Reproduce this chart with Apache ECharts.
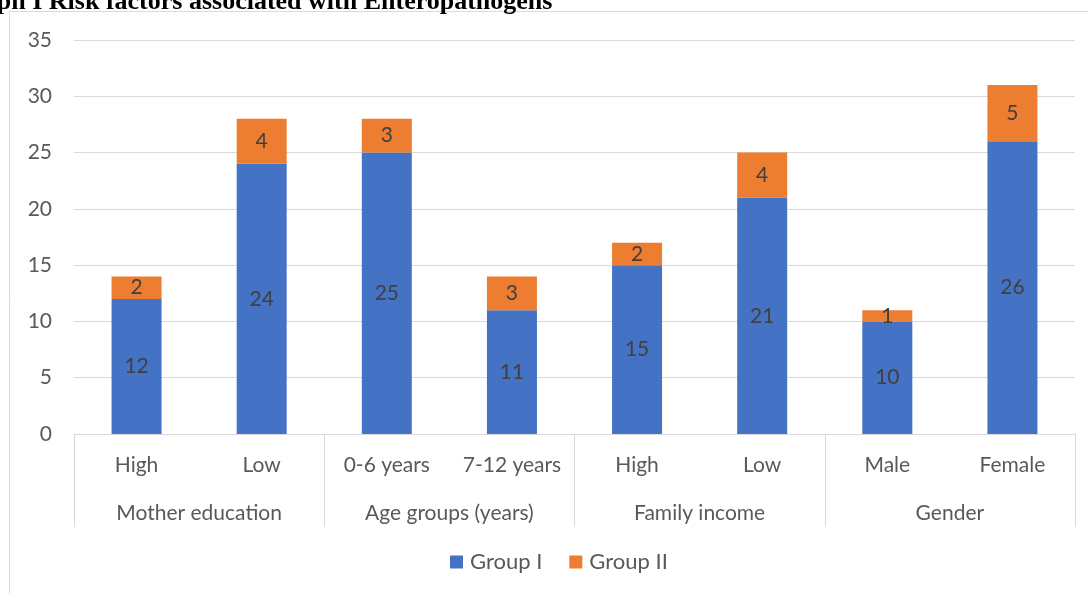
<!DOCTYPE html>
<html>
<head>
<meta charset="utf-8">
<script src="https://cdn.jsdelivr.net/npm/echarts@6/dist/echarts.min.js"></script>
<style>
  html, body { margin: 0; padding: 0; background: #fff; }
  #chart { width: 1088px; height: 593px; }
</style>
</head>
<body>
<div id="chart"></div>
<script>
// data
const subCategories = ['High', 'Low', '0-6 years', '7-12 years', 'High', 'Low', 'Male', 'Female'];
const groupCategories = ['Mother education', 'Age groups (years)', 'Family income', 'Gender'];
const groupOne = [12, 24, 25, 11, 15, 21, 10, 26];
const groupTwo = [2, 4, 3, 3, 2, 4, 1, 5];
const yTicks = { min: 0, max: 35, interval: 5 };

const font = 'Lato, "Open Sans", sans-serif';
const chart = echarts.init(document.getElementById('chart'), null, { renderer: 'canvas' });

chart.setOption({
  animation: false,
  title: {
    text: 'Graph I Risk factors associated with Enteropathogens',
    left: -53,
    top: -16,
    textStyle: { fontFamily: '"Liberation Serif", serif', fontWeight: 'bold', fontSize: 26, color: '#000' }
  },
  graphic: [{
    type: 'rect',
    shape: { x: 9.5, y: 11.5, width: 1200, height: 700 },
    style: { fill: 'none', stroke: '#d9d9d9', lineWidth: 1 },
    silent: true
  }],
  grid: { left: 74, right: 13, top: 40, bottom: 159 },
  legend: {
    bottom: 15,
    left: 445,
    itemWidth: 13,
    itemHeight: 13,
    itemGap: 27,
    icon: 'rect',
    textStyle: { fontFamily: font, fontSize: 22, color: '#595959', padding: [0, 0, 0, 2] },
    data: ['Group I', 'Group II']
  },
  xAxis: [
    {
      type: 'category',
      data: subCategories,
      axisLine: { lineStyle: { color: '#d9d9d9' } },
      axisTick: { show: false },
      axisLabel: { margin: 21, fontFamily: font, fontSize: 21, color: '#595959', interval: 0 }
    },
    {
      type: 'category',
      data: groupCategories,
      position: 'bottom',
      axisLine: { show: false },
      axisTick: { show: true, length: 93, lineStyle: { color: '#d9d9d9' } },
      axisLabel: { margin: 69, fontFamily: font, fontSize: 21, color: '#595959', interval: 0 }
    }
  ],
  yAxis: {
    type: 'value',
    min: yTicks.min,
    max: yTicks.max,
    interval: yTicks.interval,
    axisLine: { show: false },
    axisTick: { show: false },
    axisLabel: { margin: 22, fontFamily: font, fontSize: 21, color: '#595959' },
    splitLine: { lineStyle: { color: '#d9d9d9' } }
  },
  series: [
    {
      name: 'Group I',
      type: 'bar',
      stack: 'total',
      barWidth: 50,
      data: groupOne,
      itemStyle: { color: '#4472c4' },
      label: { show: true, position: 'inside', fontFamily: font, fontSize: 21, color: '#404040' }
    },
    {
      name: 'Group II',
      type: 'bar',
      stack: 'total',
      barWidth: 50,
      data: groupTwo,
      itemStyle: { color: '#ed7d31' },
      label: { show: true, position: 'inside', fontFamily: font, fontSize: 21, color: '#404040' }
    }
  ]
});
</script>
</body>
</html>
